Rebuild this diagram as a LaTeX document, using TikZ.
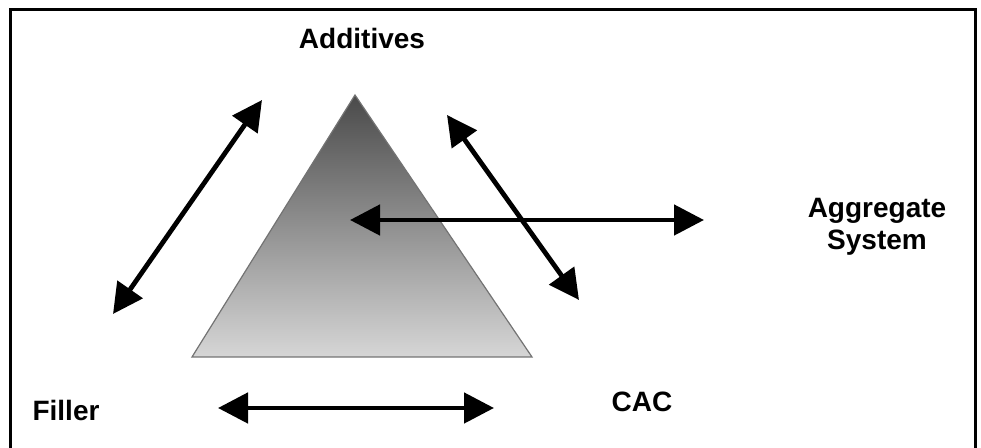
\documentclass[tikz,border=0pt]{standalone}
\usepackage{fontspec}
\setmainfont{Liberation Sans}
\usetikzlibrary{arrows.meta}
\definecolor{Ink}{HTML}{000000}
\definecolor{Apex}{HTML}{4A4A4A}
\definecolor{Base}{HTML}{D6D6D6}
\tikzset{
  label/.style={font=\fontsize{14}{16}\selectfont\bfseries,text=Ink,align=center,inner sep=0pt},
  link/.style={{Triangle[length=15pt,width=15pt]}-{Triangle[length=15pt,width=15pt]},line width=2.4pt,draw=Ink}
}
\begin{document}
\begin{tikzpicture}[x=0.5pt,y=-0.5pt]
      \useasboundingbox (0,0) rectangle (981,448);
      \draw[line width=1.5pt,Ink] (10,10) rectangle (975,460);
      % triangle
      \coordinate (apex) at (355,95);
      \coordinate (bl) at (192,357);
      \coordinate (br) at (532,357);
      \shade[top color=Apex,bottom color=Base,draw=black!55,line width=0.6pt] (apex) -- (br) -- (bl) -- cycle;
      % labels
      \node[label] (add) at (362,38) {Additives};
      \node[label] (agg) at (877,227) {Aggregate\\System};
      \node[label] (fil) at (66,410) {Filler};
      \node[label] (cac) at (642,402) {CAC};
      % arrow ends
      \foreach \name/\x/\y in {a1/113/314,a2/262/100,b1/447/115,b2/579/300,c1/350/220,c2/704/220,d1/218/408,d2/494/408}{
        \coordinate (\name) at (\x,\y);
      }
      \draw[link] (a1) -- (a2);
      \draw[link] (b1) -- (b2);
      \draw[link] (c1) -- (c2);
      \draw[link] (d1) -- (d2);
    \end{tikzpicture}
\end{document}
